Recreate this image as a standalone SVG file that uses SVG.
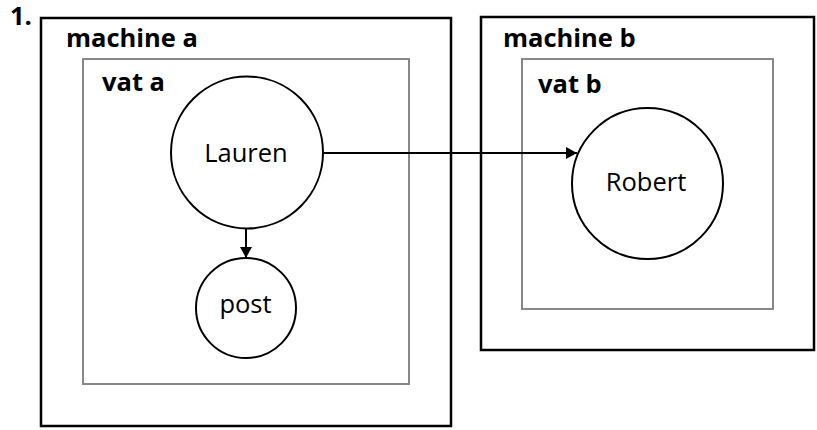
<svg xmlns="http://www.w3.org/2000/svg" width="817" height="430" viewBox="0 0 817 430">
<defs>
<style>
text{font-family:"Open Sans","Noto Sans","DejaVu Sans",sans-serif;fill:#000}
.b{font-weight:bold;font-size:25.5px}
.n{font-size:25.5px;text-anchor:middle}
.mach{fill:#fff;stroke:#000;stroke-width:2.5}
.vat{fill:#fff;stroke:#888;stroke-width:2}
.node{fill:#fff;stroke:#000;stroke-width:2}
.edge{fill:none;stroke:#000;stroke-width:2}
</style>
<marker id="ah" markerWidth="11" markerHeight="12" refX="11" refY="6" orient="auto" markerUnits="userSpaceOnUse">
<path d="M0,0L11,6L0,12Z" fill="#000"/>
</marker>
</defs>
<rect width="817" height="430" fill="#fff"/>
<text class="b" x="10" y="25">1.</text>
<g id="machine-a">
<rect class="mach" x="41" y="18" width="410" height="408"/>
<text class="b" x="66" y="47">machine a</text>
</g>
<g id="vat-a">
<rect class="vat" x="83" y="59" width="326" height="325"/>
<text class="b" x="102" y="91">vat a</text>
</g>
<g id="machine-b">
<rect class="mach" x="481" y="17" width="333" height="333"/>
<text class="b" x="503" y="47">machine b</text>
</g>
<g id="vat-b">
<rect class="vat" x="522" y="59" width="251" height="250"/>
<text class="b" x="538" y="93">vat b</text>
</g>
<g id="lauren">
<circle class="node" cx="247" cy="152.5" r="76"/>
<text class="n" x="246" y="162">Lauren</text>
</g>
<g id="post">
<circle class="node" cx="246" cy="308" r="50" stroke-width="1.5"/>
<text class="n" x="245.5" y="313">post</text>
</g>
<g id="robert">
<circle class="node" cx="647.5" cy="183.5" r="75.5"/>
<text class="n" x="646" y="191">Robert</text>
</g>
<g id="connectors">
<path class="edge" d="M246,228.5V258" marker-end="url(#ah)"/>
<path class="edge" d="M323,153H577" marker-end="url(#ah)"/>
</g>
</svg>
